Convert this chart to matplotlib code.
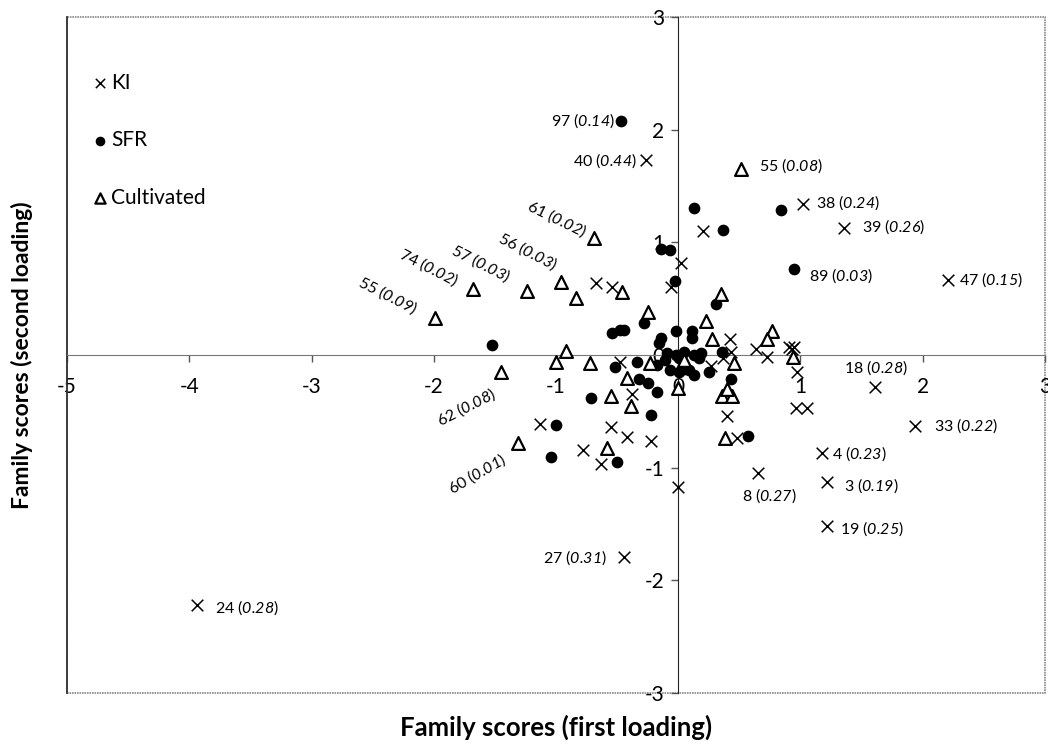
import matplotlib
matplotlib.use("Agg")
import matplotlib.pyplot as plt
from matplotlib.patches import Rectangle

plt.rcParams['font.family'] = ['Lato', 'DejaVu Sans']
plt.rcParams['axes.unicode_minus'] = False
# digits in math mode use the 'rm' font, so point it at an italic face
plt.rcParams['mathtext.fontset'] = 'custom'
plt.rcParams['mathtext.rm'] = 'Lato:italic'
plt.rcParams['mathtext.it'] = 'Lato:italic'

# KI families (x marker)
ki_x = [-0.26, 1.02, 1.36, 2.21, 1.61, 1.94, 1.18, 1.22, 1.22, 0.65, -0.44, -3.94,
        0.0, 0.02, -0.06, 0.2, -0.67, -0.54, -0.48, -0.38, -1.13, -0.55, -0.42, -0.22,
        -0.78, -0.63, 0.42, 0.43, 0.64, 0.73, 0.91, 0.95, 0.93, 0.97, 0.96, 1.05,
        0.4, 0.48, 0.27, 0.37]
ki_y = [1.73, 1.34, 1.13, 0.67, -0.28, -0.63, -0.87, -1.13, -1.52, -1.05, -1.79, -2.22,
        -1.17, 0.82, 0.6, 1.1, 0.64, 0.6, -0.06, -0.35, -0.61, -0.64, -0.73, -0.76,
        -0.84, -0.97, 0.14, 0.03, 0.05, -0.02, 0.07, 0.07, 0.05, -0.15, -0.47, -0.47,
        -0.54, -0.74, -0.1, -0.03]

# SFR families (dots)
sfr_x = [-0.47, 0.95, 0.13, 0.37, 0.84, -0.14, -0.07, -0.03, -1.52, -0.54, -0.48, -0.44,
         -0.28, 0.31, -0.02, 0.11, 0.11, -0.14, -0.16, -0.09, -0.02, 0.01, 0.13, 0.17,
         -0.34, -0.17, -0.07, 0.01, 0.09, 0.13, 0.25, 0.36, -0.52, -0.32, -0.25, -0.17,
         -0.71, 0.43, -0.22, -1.0, -1.04, -0.5, 0.57, 0.05, 0.19, -0.11, 0.05]
sfr_y = [2.08, 0.76, 1.31, 1.11, 1.29, 0.94, 0.93, 0.66, 0.09, 0.2, 0.22, 0.22,
         0.28, 0.45, 0.21, 0.21, 0.15, 0.15, 0.11, 0.02, 0.0, -0.03, 0.0, -0.03,
         -0.06, -0.09, -0.13, -0.15, -0.13, -0.18, -0.15, 0.03, -0.11, -0.21, -0.25, -0.33,
         -0.38, -0.21, -0.53, -0.62, -0.91, -0.95, -0.72, 0.03, 0.02, -0.04, -0.12]

# Cultivated families (open triangles)
cul_x = [0.51, -0.69, -0.96, -1.24, -1.68, -1.99, -0.84, -0.46, -0.25, -0.92, -1.0, -1.45,
         -0.72, -0.55, -0.39, -0.42, -1.31, -0.58, 0.23, 0.05, -0.23, 0.0, 0.35, 0.28,
         0.77, 0.73, 0.46, 0.94, 0.36, 0.44, 0.40, 0.38]
cul_y = [1.65, 1.04, 0.65, 0.57, 0.59, 0.33, 0.51, 0.56, 0.38, 0.04, -0.06, -0.15,
         -0.07, -0.36, -0.45, -0.2, -0.78, -0.83, 0.3, -0.04, -0.07, -0.29, 0.54, 0.14,
         0.21, 0.14, -0.07, -0.02, -0.36, -0.36, -0.30, -0.74]

# labelled families: id, value
lab_id = ['97', '40', '55', '38', '39', '89', '47', '18', '33', '4', '3', '19', '8', '27', '24',
          '61', '56', '57', '74', '55', '62', '60']
lab_val = ['0.14', '0.44', '0.08', '0.24', '0.26', '0.03', '0.15', '0.28', '0.22', '0.23', '0.19',
           '0.25', '0.27', '0.31', '0.28', '0.02', '0.03', '0.03', '0.02', '0.09', '0.08', '0.01']

# label placement (x, y, ha, rotation)
lab_pos = [(-0.52, 2.08, 'right', 0), (-0.34, 1.73, 'right', 0), (0.66, 1.68, 'left', 0),
           (1.13, 1.35, 'left', 0), (1.50, 1.14, 'left', 0), (1.07, 0.70, 'left', 0),
           (2.30, 0.67, 'left', 0), (1.36, -0.11, 'left', 0), (2.09, -0.63, 'left', 0),
           (1.26, -0.88, 'left', 0), (1.36, -1.16, 'left', 0), (1.32, -1.54, 'left', 0),
           (0.52, -1.25, 'left', 0), (-0.58, -1.80, 'right', 0), (-3.79, -2.24, 'left', 0),
           (-0.76, 1.09, 'right', -26), (-1.00, 0.79, 'right', -27), (-1.38, 0.69, 'right', -27),
           (-1.81, 0.65, 'right', -27), (-2.14, 0.40, 'right', -27), (-1.50, -0.33, 'right', 27),
           (-1.42, -0.91, 'right', 30)]

fig = plt.figure(figsize=(10.48, 7.49), dpi=100)
ax = fig.add_axes([0.064, 0.075, 0.933, 0.902])

ax.scatter(ki_x, ki_y, marker='x', s=70, c='black', linewidths=1.1, label='KI', zorder=3)
ax.scatter(sfr_x, sfr_y, marker='o', s=55, c='black', edgecolors='black', label='SFR', zorder=3)
ax.scatter(cul_x, cul_y, marker='^', s=85, facecolors='white', edgecolors='black',
           linewidths=1.6, label='Cultivated', zorder=3)

for i in range(len(lab_id)):
    x, y, ha, rot = lab_pos[i]
    ax.text(x, y, lab_id[i] + ' ($' + lab_val[i] + '$)', ha=ha, va='center',
            rotation=rot, rotation_mode='anchor', fontsize=11.5, zorder=4)

ax.set_xlim(-5, 3)
ax.set_ylim(-3, 3)
ax.set_xticks(range(-5, 4))
ax.set_yticks(range(-3, 4))
ax.spines['left'].set_position(('data', 0))
ax.spines['bottom'].set_position(('data', 0))
ax.spines['left'].set_color('#222222')
ax.spines['bottom'].set_color('#777777')
ax.spines['top'].set_visible(False)
ax.spines['right'].set_visible(False)
ax.tick_params(axis='both', direction='out', length=5, labelsize=15, width=1, color='#555555')
ax.tick_params(axis='x', pad=11)
ax.tick_params(axis='y', pad=5)

ax.add_patch(Rectangle((0, 0), 1, 1, transform=ax.transAxes, fill=False,
                       edgecolor='#888888', lw=1.2, ls=(0, (1, 0.5)), clip_on=False))
ax.plot([0, 0], [0, 1], transform=ax.transAxes, color='#333333', lw=1.3, clip_on=False)

ax.legend(loc='upper left', bbox_to_anchor=(0.016, 0.93), frameon=False, fontsize=15,
          labelspacing=1.8, handletextpad=0.05, handlelength=0.9, markerscale=0.8,
          borderaxespad=0)

fig.text(0.021, 0.526, 'Family scores (second loading)', rotation=90, ha='center', va='center',
         fontsize=16.5, fontweight='bold')
fig.text(0.531, 0.029, 'Family scores (first loading)', ha='center', va='center',
         fontsize=18.5, fontweight='bold')

plt.savefig('out.png', dpi=100)
